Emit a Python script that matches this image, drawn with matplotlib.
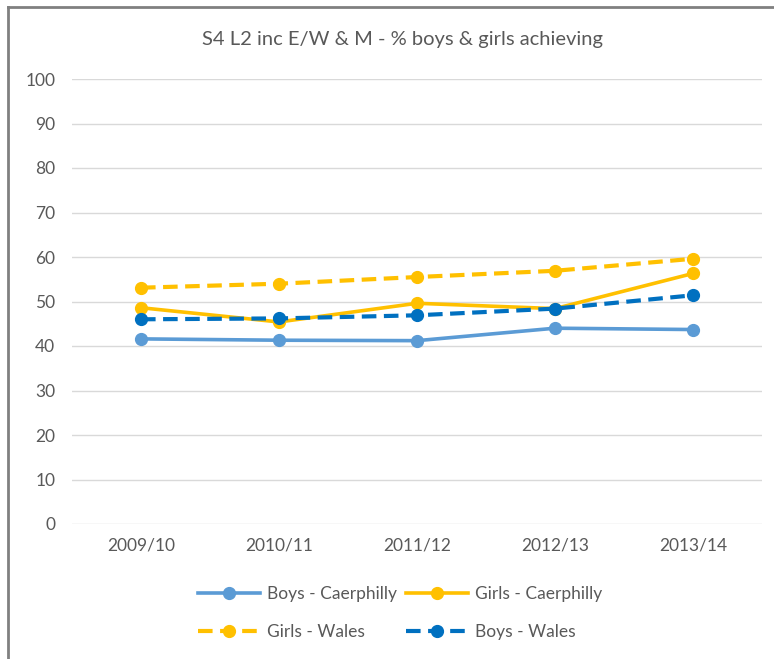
import matplotlib
matplotlib.use("Agg")
import matplotlib.pyplot as plt
from matplotlib.lines import Line2D

categories = ["2009/10", "2010/11", "2011/12", "2012/13", "2013/14"]
boys_caerphilly = [41.6, 41.3, 41.2, 44.0, 43.7]
girls_caerphilly = [48.6, 45.4, 49.6, 48.4, 56.3]
girls_wales = [53.1, 54.0, 55.5, 56.9, 59.6]
boys_wales = [46.0, 46.2, 46.9, 48.4, 51.4]
yticks = list(range(0, 101, 10))
title = "S4 L2 inc E/W & M - % boys & girls achieving"

plt.rcParams['font.family'] = ['Lato', 'DejaVu Sans']
txt = '#595959'

fig = plt.figure(figsize=(7.74, 6.59), dpi=100)
ax = fig.add_axes([72/774, 1-524/659, 690/774, 445/659])

x = list(range(len(categories)))
h1, = ax.plot(x, boys_caerphilly, color='#5B9BD5', lw=2.6, marker='o', ms=8.5,
              label='Boys - Caerphilly', zorder=3)
h2, = ax.plot(x, girls_caerphilly, color='#FFC000', lw=2.6, marker='o', ms=8.5,
              label='Girls - Caerphilly', zorder=3)
h3, = ax.plot(x, girls_wales, color='#FFC000', lw=3, marker='o', ms=8.5,
              dashes=(3.5, 1.8), label='Girls - Wales', zorder=3)
h4, = ax.plot(x, boys_wales, color='#0070C0', lw=3, marker='o', ms=8.5,
              dashes=(3.5, 1.8), label='Boys - Wales', zorder=4)

ax.set_xlim(-0.5, len(categories) - 0.5)
ax.set_ylim(0, 100)
ax.set_yticks(yticks)
ax.set_xticks(x)
ax.set_xticklabels(categories)
ax.grid(axis='y', color='#D9D9D9', lw=1)
ax.set_axisbelow(True)
for s in ax.spines.values():
    s.set_visible(False)
ax.tick_params(length=0, colors=txt, labelsize=12.5, pad=12)
ax.tick_params(axis='x', pad=10)

fig.text(402/774, 1-40/659, title, ha='center', va='center', fontsize=14.5, color=txt)

leg = fig.legend([h1, h3, h2, h4],
                 ['Boys - Caerphilly', 'Girls - Wales', 'Girls - Caerphilly', 'Boys - Wales'],
                 ncol=2, loc='center', bbox_to_anchor=(400/774, 1-613/659),
                 frameon=False, fontsize=12.5, handlelength=3.6, columnspacing=0.5,
                 handletextpad=0.4, labelspacing=1.3)
for t in leg.get_texts():
    t.set_color(txt)

fig.add_artist(Line2D([8/774, 8/774], [0, 1-7/659], color='#808080', lw=2,
                      transform=fig.transFigure))
fig.add_artist(Line2D([8/774, 1], [1-7/659, 1-7/659], color='#808080', lw=2,
                      transform=fig.transFigure))

fig.savefig("out.png", dpi=100)
